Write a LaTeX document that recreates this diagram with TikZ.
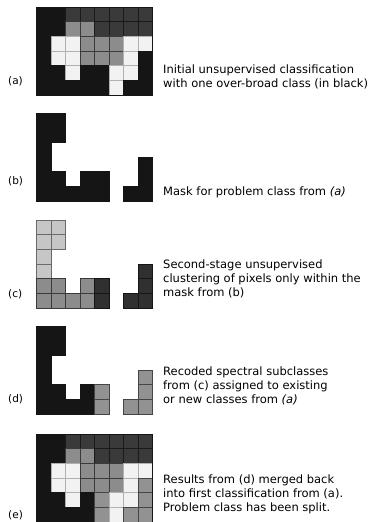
\documentclass[tikz,border=0pt]{standalone}
\usepackage{fontspec}
\setmainfont{DejaVu Sans}
\definecolor{cK}{HTML}{151515}
\definecolor{cD}{HTML}{3A3A3A}
\definecolor{cM}{HTML}{8C8C8C}
\definecolor{cW}{HTML}{F2F2F2}
\definecolor{cL}{HTML}{C6C6C6}
\definecolor{cC}{HTML}{303030}
\definecolor{cG}{HTML}{929292}
\definecolor{lK}{HTML}{151515}
\definecolor{lD}{HTML}{1A1A1A}
\definecolor{lM}{HTML}{3A3A3A}
\definecolor{lW}{HTML}{B0B0B0}
\definecolor{lL}{HTML}{6A6A6A}
\definecolor{lC}{HTML}{151515}
\definecolor{lG}{HTML}{454545}
\newcommand\gridrow[3]{%
  \foreach \c [count=\i from 0] in {#3} {%
    \if N\c\else
      \path[cell, fill=c\c, draw=l\c] (36.5+\i*14.5, #1+#2*14.67) rectangle ++(14.5,14.67);
    \fi}}
\begin{document}
\begin{tikzpicture}[x=1pt,y=-1pt,
  cell/.style={line width=0.5pt},
  caption/.style={anchor=north west, inner sep=0pt, align=left, font=\fontsize{11.5}{14}\selectfont},
  plabel/.style={anchor=base west, inner sep=0pt, font=\fontsize{10.5}{12}\selectfont}]
\useasboundingbox (0,0) rectangle (379,522);
% (a)
\gridrow{7}{0}{K,K,D,D,D,D,D,D}
\gridrow{7}{1}{K,K,M,M,D,D,D,D}
\gridrow{7}{2}{K,W,W,M,M,M,W,W}
\gridrow{7}{3}{K,W,W,M,M,M,W,K}
\gridrow{7}{4}{K,K,W,K,K,W,W,K}
\gridrow{7}{5}{K,K,K,K,K,W,K,K}
\draw[cK, line width=0.6pt] (36.5,7) rectangle ++(116,88);
\node[plabel] (la) at (8,84) {(a)};
\node[caption] (ta) at (163,63.2) {\strut Initial unsupervised classification\\with one over-broad class (in black)};
% (b)
\gridrow{113}{0}{K,K,N,N,N,N,N,N}
\gridrow{113}{1}{K,K,N,N,N,N,N,N}
\gridrow{113}{2}{K,N,N,N,N,N,N,N}
\gridrow{113}{3}{K,N,N,N,N,N,N,K}
\gridrow{113}{4}{K,K,N,K,K,N,N,K}
\gridrow{113}{5}{K,K,K,K,K,N,K,K}
\node[plabel] (lb) at (8,184) {(b)};
\node[caption] (tb) at (163,185.2) {\strut Mask for problem class from \textit{(a)}};
% (c)
\gridrow{220}{0}{L,L,N,N,N,N,N,N}
\gridrow{220}{1}{L,L,N,N,N,N,N,N}
\gridrow{220}{2}{L,N,N,N,N,N,N,N}
\gridrow{220}{3}{L,N,N,N,N,N,N,C}
\gridrow{220}{4}{M,M,N,M,C,N,N,C}
\gridrow{220}{5}{M,M,M,M,C,N,C,C}
\node[plabel] (lc) at (8,297) {(c)};
\node[caption] (tc) at (163,258.2) {\strut Second-stage unsupervised\\clustering of pixels only within the\\mask from (b)};
% (d)
\gridrow{326}{0}{K,K,N,N,N,N,N,N}
\gridrow{326}{1}{K,K,N,N,N,N,N,N}
\gridrow{326}{2}{K,N,N,N,N,N,N,N}
\gridrow{326}{3}{K,N,N,N,N,N,N,G}
\gridrow{326}{4}{K,K,N,K,G,N,N,G}
\gridrow{326}{5}{K,K,K,K,G,N,G,G}
\node[plabel] (ld) at (8,402) {(d)};
\node[caption] (td) at (163,365.2) {\strut Recoded spectral subclasses\\from (c) assigned to existing\\or new classes from \textit{(a)}};
% (e)
\gridrow{434}{0}{K,K,D,D,D,D,D,D}
\gridrow{434}{1}{K,K,M,M,D,D,D,D}
\gridrow{434}{2}{K,W,W,M,M,M,W,W}
\gridrow{434}{3}{K,W,W,M,M,M,W,G}
\gridrow{434}{4}{K,K,W,K,G,W,W,G}
\gridrow{434}{5}{K,K,K,K,G,W,G,G}
\draw[cK, line width=0.6pt] (36.5,434) rectangle ++(116,88);
\node[plabel] (le) at (8,518.5) {(e)};
\node[caption] (te) at (163,473.2) {\strut Results from (d) merged back\\into first classification from (a).\\Problem class has been split.};
\end{tikzpicture}
\end{document}
